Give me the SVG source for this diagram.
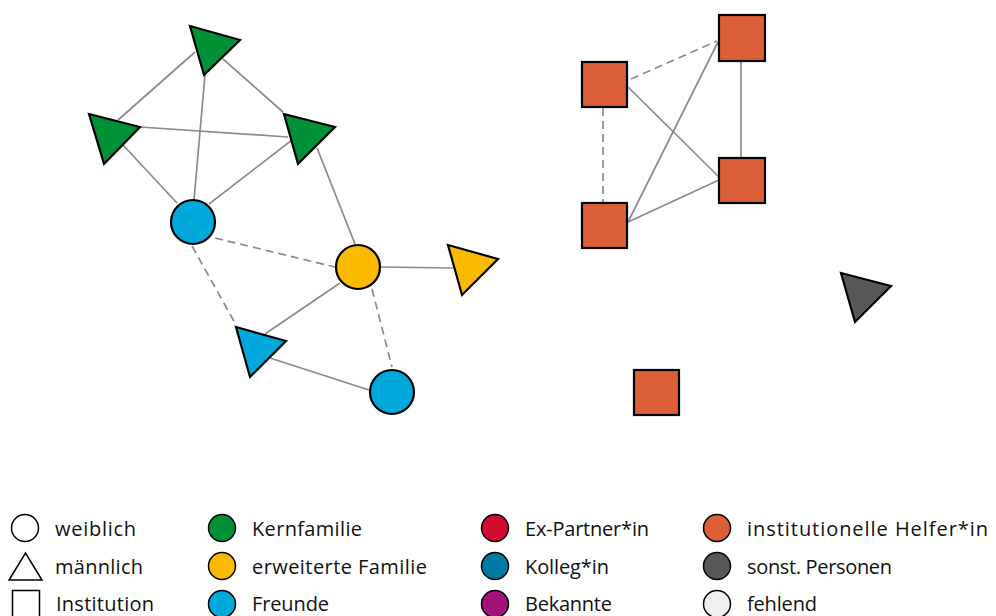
<svg xmlns="http://www.w3.org/2000/svg" width="996" height="616" viewBox="0 0 996 616">
<style>
.e{stroke:#8a8a8a;stroke-width:1.7;fill:none}
.d{stroke-dasharray:8,5}
.n{stroke:#000;stroke-width:2.2}
.lg{stroke:#000;stroke-width:1.5}
.g{fill:#009036}.b{fill:#00a8dc}.y{fill:#fbb900}.o{fill:#dd5f37}.k{fill:#575757}
text{font-family:"Open Sans","Noto Sans","Liberation Sans",sans-serif;font-size:20px;fill:#111}
</style>
<rect width="996" height="616" fill="#fff"/>
<g id="connectors">
<line class="e" x1="118" y1="120" x2="195" y2="52"/>
<line class="e" x1="223" y1="59" x2="283" y2="112"/>
<line class="e" x1="205" y1="75" x2="194" y2="200"/>
<line class="e" x1="140" y1="127" x2="288" y2="137"/>
<line class="e" x1="123" y1="145" x2="177" y2="203"/>
<line class="e" x1="292" y1="140" x2="209" y2="204"/>
<line class="e" x1="317" y1="148" x2="355" y2="244"/>
<line class="e d" x1="215" y1="238" x2="335" y2="267"/>
<line class="e d" x1="192" y1="246" x2="235" y2="323"/>
<line class="e" x1="380" y1="267" x2="453" y2="268"/>
<line class="e" x1="340" y1="283" x2="265" y2="334"/>
<line class="e d" x1="372" y1="289" x2="392" y2="367"/>
<line class="e" x1="270" y1="358" x2="369" y2="390"/>
<line class="e d" x1="631" y1="79" x2="717" y2="41"/>
<line class="e d" x1="603" y1="108" x2="603" y2="203"/>
<line class="e" x1="628" y1="87" x2="719" y2="177"/>
<line class="e" x1="741" y1="61" x2="741" y2="158"/>
<line class="e" x1="628" y1="222" x2="718" y2="42"/>
<line class="e" x1="628" y1="222" x2="719" y2="180"/>
</g>
<g id="n1"><polygon class="n g" points="190,26 240,40 204,75"/></g>
<g id="n2"><polygon class="n g" points="89,114 140,127 104,164"/></g>
<g id="n3"><polygon class="n g" points="284,114 335,127 298,164"/></g>
<g id="n4"><circle class="n b" cx="193" cy="222" r="22"/></g>
<g id="n5"><circle class="n y" cx="358" cy="267" r="22"/></g>
<g id="n6"><polygon class="n y" points="448,245 498,259 462,295"/></g>
<g id="n7"><polygon class="n b" points="236,327 286,341 250,377"/></g>
<g id="n8"><circle class="n b" cx="392" cy="392" r="22"/></g>
<g id="n9"><rect class="n o" x="719" y="15" width="46" height="46"/></g>
<g id="n10"><rect class="n o" x="582" y="62" width="45" height="45"/></g>
<g id="n11"><rect class="n o" x="719" y="158" width="46" height="45"/></g>
<g id="n12"><rect class="n o" x="582" y="203" width="45" height="45"/></g>
<g id="n13"><rect class="n o" x="634" y="370" width="45" height="45"/></g>
<g id="n14"><polygon class="n k" points="841,273 891,286 855,322"/></g>
<g id="legend">
<circle class="lg" cx="25" cy="528" r="13.5" fill="#fff"/>
<text x="55" y="536" textLength="81" lengthAdjust="spacing">weiblich</text>
<polygon class="lg" points="9,580 42,580 25.5,553" fill="#fff"/>
<text x="55" y="574" textLength="88" lengthAdjust="spacing">männlich</text>
<rect class="lg" x="12.5" y="590.5" width="27" height="30" fill="#fff"/>
<text x="56" y="611" textLength="98" lengthAdjust="spacing">Institution</text>
<circle class="lg" cx="222" cy="528" r="13.5" fill="#009036"/>
<text x="252" y="536" textLength="110" lengthAdjust="spacing">Kernfamilie</text>
<circle class="lg" cx="222" cy="566" r="13.5" fill="#fbb900"/>
<text x="252" y="574" textLength="175" lengthAdjust="spacing">erweiterte Familie</text>
<circle class="lg" cx="222" cy="604" r="13.5" fill="#00a8dc"/>
<text x="252" y="611" textLength="77" lengthAdjust="spacing">Freunde</text>
<circle class="lg" cx="495" cy="528" r="13.5" fill="#d20a30"/>
<text x="525" y="536" textLength="124" lengthAdjust="spacing">Ex-Partner*in</text>
<circle class="lg" cx="495" cy="566" r="13.5" fill="#0079a3"/>
<text x="525" y="574" textLength="84" lengthAdjust="spacing">Kolleg*in</text>
<circle class="lg" cx="495" cy="604" r="13.5" fill="#a0127a"/>
<text x="525" y="611" textLength="87" lengthAdjust="spacing">Bekannte</text>
<circle class="lg" cx="717" cy="528" r="13.5" fill="#dd5f37"/>
<text x="747" y="536" textLength="241" lengthAdjust="spacing">institutionelle Helfer*in</text>
<circle class="lg" cx="717" cy="566" r="13.5" fill="#575757"/>
<text x="747" y="574" textLength="145" lengthAdjust="spacing">sonst. Personen</text>
<circle class="lg" cx="717" cy="604" r="13.5" fill="#efefef"/>
<text x="747" y="611" textLength="70" lengthAdjust="spacing">fehlend</text>
</g>
</svg>
